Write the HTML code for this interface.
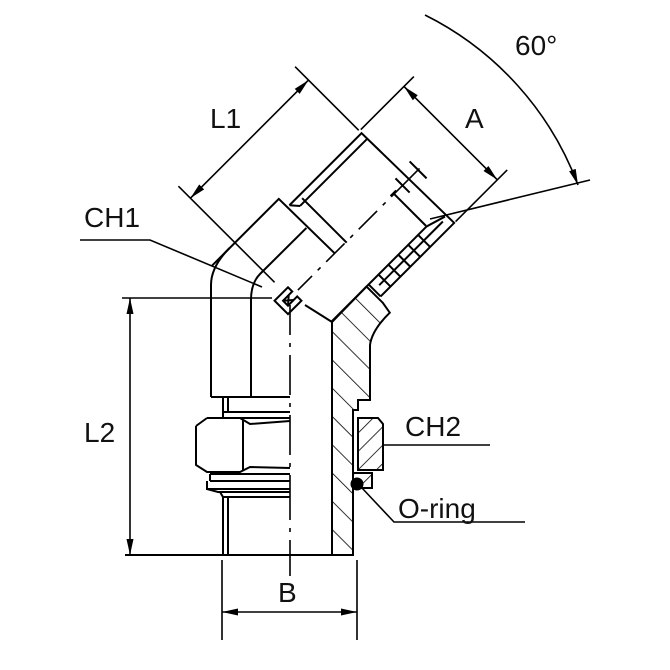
<!DOCTYPE html>
<html><head><meta charset="utf-8"><style>
html,body{margin:0;padding:0;background:#fff}
svg{display:block}
text{font-family:"Liberation Sans",sans-serif;font-size:28px;fill:#111}
</style></head><body>
<svg width="670" height="670" viewBox="0 0 670 670" xmlns="http://www.w3.org/2000/svg">
<defs>
<marker id="ar" markerUnits="userSpaceOnUse" markerWidth="20" markerHeight="10" refX="16" refY="4" orient="auto-start-reverse" viewBox="0 0 20 8">
<path d="M0,0.5 L16,4 L0,7.5 z" fill="#000"/></marker>
<pattern id="h1" patternUnits="userSpaceOnUse" width="20" height="20" patternTransform="rotate(-45)">
<line x1="0" y1="0" x2="0" y2="20" stroke="#000" stroke-width="1.6"/></pattern>
<pattern id="h2" patternUnits="userSpaceOnUse" width="13" height="13" patternTransform="rotate(45)">
<line x1="0" y1="0" x2="0" y2="13" stroke="#000" stroke-width="1.6"/></pattern>
</defs>
<g fill="none" stroke="#000" stroke-width="2">
<path d="M332,322 L366.5,286.6 L382.8,302.8 L389.8,312.7 Q372,330 370,345 L370,400 L358,400 L358,410 L353,410 L353,555 L332,555 Z" fill="url(#h1)"/>
<path d="M211,397 L211,285 Q211,266.6 229.5,248"/>
<path d="M251,397 L251,300 Q251,283 260,274 L306.4,227.9"/>
<line x1="211" y1="397" x2="290" y2="397"/>
<line x1="223" y1="397" x2="223" y2="412"/><line x1="228" y1="397" x2="228" y2="412"/>
<path d="M223,412 L290,412 M223,418 L290,418 M223,412 L223,418"/>
<path d="M207,418 L240,418 L250,424 L290,421 M196,426 L207,418 M196,426 L196,465 L207,472 L240,472 L250,467 L290,468 M243,420 L243,470"/>
<path d="M210,474 L290,474 M210,481 L290,481 M210,474 L210,481 M207,481 L207,489 L290,489 M207,489 L218,492 L290,492 M220,492 L223,497 L290,497"/>
<path d="M223,497 L223,555 M228,497 L228,555"/>
<line x1="125" y1="555" x2="353" y2="555"/>
<path d="M358,418 L378,418 L383,424 L383,470 L358,470 Z" fill="url(#h2)"/>
<path d="M353,473 L372,473 L372,488 L353,488" fill="url(#h2)"/>
<circle cx="357" cy="484" r="5.5" fill="#000"/>
<line x1="332" y1="322" x2="305" y2="305"/>
<g transform="translate(288,300) rotate(-45)">
<path d="M-30,-78 L65,-78 L66,0"/>
<path d="M68,-66 L170,-66 L172,60 L172,63 L68,63"/>
<path d="M75,-58 L170,-58 M68,-66 L75,-58"/>
<path d="M82,-62 L82,1"/>
<path d="M150,0 L150,45 M146,-1 L154,-1"/>
<path d="M15,46 L150,46 L170,52"/>
<path d="M75,54 L165,54"/>
<path d="M68,46 L68,63 M82,46 L82,63 M96,46 L96,63 M110,46 L110,63 M124,46 L124,63 M138,46 L138,63"/>
<path d="M162,-10 L162,10 M184,-12 L184,12"/>
<path d="M-10,-9 L9,-9 L9,-3 L-4,-3 L-4,4 L9,4 L9,10 L-10,10 Z"/>
<path d="M-4,-3 L4,4 M4,-3 L-4,4"/>
<path d="M14,0 L34,0 M42,0 L46,0 M54,0 L80,0 M88,0 L92,0 M100,0 L126,0 M134,0 L138,0 M146,0 L186,0" stroke-width="1.6"/>
<path d="M3,-158 L3,-22 M170,-160 L170,-70" stroke-width="1.6"/>
<line x1="3" y1="-141" x2="170" y2="-141" stroke-width="1.6" marker-start="url(#ar)" marker-end="url(#ar)"/>
<path d="M172,-69 L247,-69 M174,63 L247,63" stroke-width="1.6"/>
<line x1="233" y1="-69" x2="233" y2="63" stroke-width="1.6" marker-start="url(#ar)" marker-end="url(#ar)"/>
</g>
<path d="M290,305 L290,335 M290,343 L290,347 M290,355 L290,395 M290,403 L290,407 M290,415 L290,455 M290,463 L290,467 M290,475 L290,520 M290,528 L290,532 M290,540 L290,576" stroke-width="1.6"/>
<path d="M122,298 L272,298" stroke-width="1.6"/>
<line x1="130" y1="298" x2="130" y2="555" stroke-width="1.6" marker-start="url(#ar)" marker-end="url(#ar)"/>
<path d="M222,560 L222,640 M357,560 L357,640" stroke-width="1.6"/>
<line x1="222" y1="612" x2="357" y2="612" stroke-width="1.6" marker-start="url(#ar)" marker-end="url(#ar)"/>
<path d="M425,15 A312,312 0 0 1 578,185" stroke-width="1.6" marker-end="url(#ar)"/>
<line x1="590" y1="180" x2="430" y2="219" stroke-width="1.6"/>
<path d="M80,240 L150,240 L262,287" stroke-width="1.6"/>
<path d="M383,445 L490,445" stroke-width="1.6"/>
<path d="M362,488 L394,522 L525,522" stroke-width="1.6"/>
</g>
<text x="210" y="128">L1</text>
<text x="465" y="128">A</text>
<text x="515" y="55">60°</text>
<text x="84" y="227">CH1</text>
<text x="405" y="436">CH2</text>
<text x="84" y="442">L2</text>
<text x="398" y="518">O-ring</text>
<text x="278" y="602">B</text>
</svg>
</body></html>
